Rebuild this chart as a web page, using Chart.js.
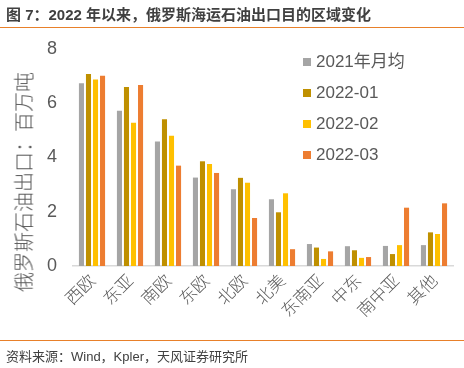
<!DOCTYPE html>
<html><head><meta charset="utf-8">
<script src="https://cdn.jsdelivr.net/npm/chart.js@4/dist/chart.umd.min.js"></script>
<style>
html,body{margin:0;padding:0;background:#fff;}
#wrap{position:relative;width:464px;height:368px;overflow:hidden;font-family:"Liberation Sans","Noto Sans CJK SC",sans-serif;}
#title{position:absolute;left:6px;top:3px;font-size:15px;font-weight:bold;color:#404040;white-space:nowrap;font-family:"Liberation Sans","Noto Sans CJK SC",sans-serif;}
#tline{position:absolute;left:0;top:27px;width:464px;height:1px;background:#E8802A;}
#bline{position:absolute;left:0;top:340px;width:464px;height:1px;background:#E8802A;}
#src{position:absolute;left:6px;top:346px;font-size:13px;color:#404040;white-space:nowrap;}
#legend{position:absolute;left:303px;top:46px;}
#ytitle{position:absolute;left:23px;top:182px;transform:translate(-50%,-50%) rotate(-90deg);font-size:20px;color:#595959;white-space:nowrap;font-family:"Noto Sans CJK SC",sans-serif;font-weight:300;}
.li{height:31px;line-height:24px;font-size:17px;color:#595959;display:flex;align-items:center;}
.sw{width:8px;height:8px;margin-right:5px;}
canvas{position:absolute;left:0;top:0;}
</style></head><body>
<div id="wrap">
<canvas id="c" width="464" height="368"></canvas>
<div id="title">图 7：2022 年以来，俄罗斯海运石油出口目的区域变化</div>
<div id="tline"></div>
<div id="legend"></div>
<div id="ytitle"></div>
<div id="bline"></div>
<div id="src">资料来源：Wind，Kpler，天风证券研究所</div>
</div>
<script>
const categories = ["西欧","东亚","南欧","东欧","北欧","北美","东南亚","中东","南中亚","其他"];
const seriesNames = ["2021年月均","2022-01","2022-02","2022-03"];
const avg2021 = [6.74,5.72,4.59,3.26,2.83,2.46,0.81,0.73,0.74,0.77];
const jan2022 = [7.08,6.60,5.41,3.86,3.25,1.98,0.68,0.58,0.44,1.24];
const feb2022 = [6.88,5.28,4.80,3.76,3.07,2.68,0.26,0.30,0.77,1.18];
const mar2022 = [7.01,6.67,3.70,3.43,1.77,0.62,0.54,0.33,2.15,2.31];
const yTicks = [0,2,4,6,8];
const yTitle = "俄罗斯石油出口：百万吨";
const colors = ["#A5A5A5","#BF9000","#FFC000","#ED7D31"];
const seriesData = [avg2021,jan2022,feb2022,mar2022];

document.getElementById('ytitle').textContent = yTitle;
const lg = document.getElementById('legend');
seriesNames.forEach((n,i)=>{
  const d=document.createElement('div');d.className='li';
  d.innerHTML='<span class="sw" style="background:'+colors[i]+'"></span><span>'+n+'</span>';
  lg.appendChild(d);
});

const latin = '"Liberation Sans","Noto Sans CJK SC",sans-serif';
const cjk = '"Noto Sans CJK SC",sans-serif';
new Chart(document.getElementById('c'),{
  type:'bar',
  data:{labels:categories,datasets:seriesData.map((d,i)=>({
    label:seriesNames[i],data:d,backgroundColor:colors[i],
    borderWidth:0,
    categoryPercentage:0.74,barPercentage:0.72
  }))},
  options:{
    responsive:false,animation:false,
    layout:{padding:{left:0,right:11,top:49,bottom:40}},
    plugins:{legend:{display:false},tooltip:{enabled:false}},
    scales:{
      x:{
        grid:{display:false,drawTicks:false},
        border:{display:true,color:'#D9D9D9',width:1.5},
        ticks:{color:'#595959',font:{family:cjk,size:17,weight:300},maxRotation:45,minRotation:45,padding:4},
        afterFit:(s)=>{s.height=62;}
      },
      y:{
        min:0,max:8,
        afterBuildTicks:(s)=>{s.ticks=yTicks.map(v=>({value:v}));},
        grid:{display:false,drawTicks:false},
        border:{display:false},
        ticks:{color:'#595959',font:{family:latin,size:18},padding:16},
        title:{display:false},
        afterFit:(s)=>{s.width=73;}
      }
    }
  }
});
</script>
</body></html>
